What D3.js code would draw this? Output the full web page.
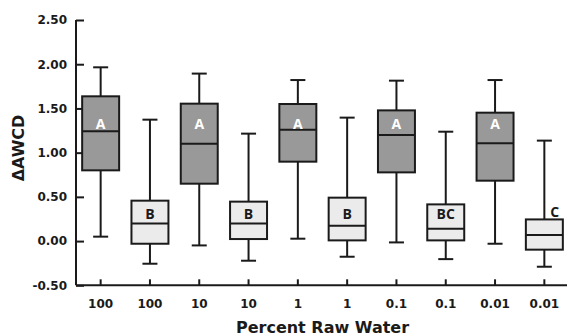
<!DOCTYPE html>
<html>
<head>
<meta charset="utf-8">
<script src="https://cdn.jsdelivr.net/npm/d3@7"></script>
<style>
  body { margin: 0; background: #fff; }
  svg { display: block; }
  .axis text { font-family: "DejaVu Sans", sans-serif; font-weight: bold; font-size: 12px; fill: #1a1a1a; }
  .axis path, .axis line { stroke: #1a1a1a; stroke-width: 2; }
</style>
</head>
<body>
<div id="chart"></div>
<script>
// box plot stats
const categories = ["100", "100", "10", "10", "1", "1", "0.1", "0.1", "0.01", "0.01"];
const whiskerHigh = [1.965, 1.373, 1.894, 1.215, 1.821, 1.396, 1.814, 1.237, 1.821, 1.136];
const q3 = [1.637, 0.457, 1.554, 0.446, 1.55, 0.491, 1.478, 0.415, 1.452, 0.245];
const medians = [1.241, 0.2, 1.102, 0.2, 1.26, 0.174, 1.199, 0.14, 1.105, 0.068];
const q1 = [0.8, -0.03, 0.649, 0.023, 0.898, 0.008, 0.777, 0.008, 0.683, -0.097];
const whiskerLow = [0.05, -0.256, -0.049, -0.222, 0.027, -0.177, -0.015, -0.204, -0.03, -0.29];
const groupLetters = ["A", "B", "A", "B", "A", "B", "A", "BC", "A", "C"];
const letterValue = [1.32, 0.31, 1.32, 0.31, 1.32, 0.31, 1.32, 0.31, 1.32, 0.33];
const yTicks = [-0.5, 0, 0.5, 1, 1.5, 2, 2.5];

const width = 567,
  height = 335;

const boxes = categories.map((c, i) => ({
  i: i,
  cat: c,
  hi: whiskerHigh[i],
  q3: q3[i],
  med: medians[i],
  q1: q1[i],
  lo: whiskerLow[i],
  letter: groupLetters[i],
  lv: letterValue[i],
  dark: i % 2 === 0,
}));

const x = d3
  .scaleBand()
  .domain(d3.range(categories.length))
  .range([76, 569])
  .padding(0);

const y = d3.scaleLinear().domain([-0.5, 2.5]).range([285.3, 20]);

const svg = d3
  .select("#chart")
  .append("svg")
  .attr("width", width)
  .attr("height", height);

//axes
const xAxis = svg
  .append("g")
  .attr("class", "axis")
  .attr("transform", `translate(0,${y(-0.5)})`)
  .call(
    d3
      .axisBottom(x)
      .tickSize(-6)
      .tickPadding(14)
      .tickFormat((d) => categories[d])
  );
xAxis.select(".domain").attr("d", `M76,0H569`);

const yAxis = svg
  .append("g")
  .attr("class", "axis")
  .attr("transform", `translate(76,0)`)
  .call(
    d3
      .axisLeft(y)
      .tickValues(yTicks)
      .tickSize(-8)
      .tickPadding(9)
      .tickFormat((d) => d.toFixed(2))
  );
yAxis.select(".domain").attr("d", `M0,${y(2.5)}V${y(-0.5)}`);

const bw = x.bandwidth() * 0.75;
const capW = 15;

const g = svg
  .selectAll(".box")
  .data(boxes)
  .enter()
  .append("g")
  .attr("class", "box")
  .attr("transform", (d) => `translate(${x(d.i) + x.bandwidth() / 2},0)`);

// whisker line + caps
g.append("line")
  .attr("x1", 0)
  .attr("x2", 0)
  .attr("y1", (d) => y(d.hi))
  .attr("y2", (d) => y(d.lo))
  .attr("stroke", "#1a1a1a")
  .attr("stroke-width", 2);

g.selectAll(".cap")
  .data((d) => [d.hi, d.lo])
  .enter()
  .append("line")
  .attr("x1", -capW / 2)
  .attr("x2", capW / 2)
  .attr("y1", (v) => y(v))
  .attr("y2", (v) => y(v))
  .attr("stroke", "#1a1a1a")
  .attr("stroke-width", 2);

g.append("rect")
  .attr("x", -bw / 2)
  .attr("width", bw)
  .attr("y", (d) => y(d.q3))
  .attr("height", (d) => y(d.q1) - y(d.q3))
  .attr("fill", (d) => (d.dark ? "#999999" : "#ebebeb"))
  .attr("stroke", "#1a1a1a")
  .attr("stroke-width", 2);

g.append("line")
  .attr("x1", -bw / 2)
  .attr("x2", bw / 2)
  .attr("y1", (d) => y(d.med))
  .attr("y2", (d) => y(d.med))
  .attr("stroke", "#1a1a1a")
  .attr("stroke-width", 2);

// letters; if the letter sits above the box, put it beside the whisker
g.append("text")
  .attr("x", (d) => (d.lv > d.q3 ? 6 : 0))
  .attr("y", (d) => y(d.lv))
  .attr("dy", "0.36em")
  .attr("text-anchor", (d) => (d.lv > d.q3 ? "start" : "middle"))
  .style("font-family", "'Open Sans', sans-serif")
  .style("font-weight", "bold")
  .style("font-size", "14px")
  .attr("fill", (d) => (d.dark ? "#ffffff" : "#1a1a1a"))
  .text((d) => d.letter);

// axis titles
svg
  .append("text")
  .attr("x", 322.5)
  .attr("y", 332.5)
  .attr("text-anchor", "middle")
  .style("font-family", "'DejaVu Sans', sans-serif")
  .style("font-weight", "bold")
  .style("font-size", "16px")
  .attr("fill", "#1a1a1a")
  .text("Percent Raw Water");

svg
  .append("text")
  .attr("transform", "translate(24,148) rotate(-90)")
  .attr("text-anchor", "middle")
  .style("font-family", "'DejaVu Sans', sans-serif")
  .style("font-weight", "bold")
  .style("font-size", "16px")
  .attr("fill", "#1a1a1a")
  .text("ΔAWCD");
</script>
</body>
</html>
